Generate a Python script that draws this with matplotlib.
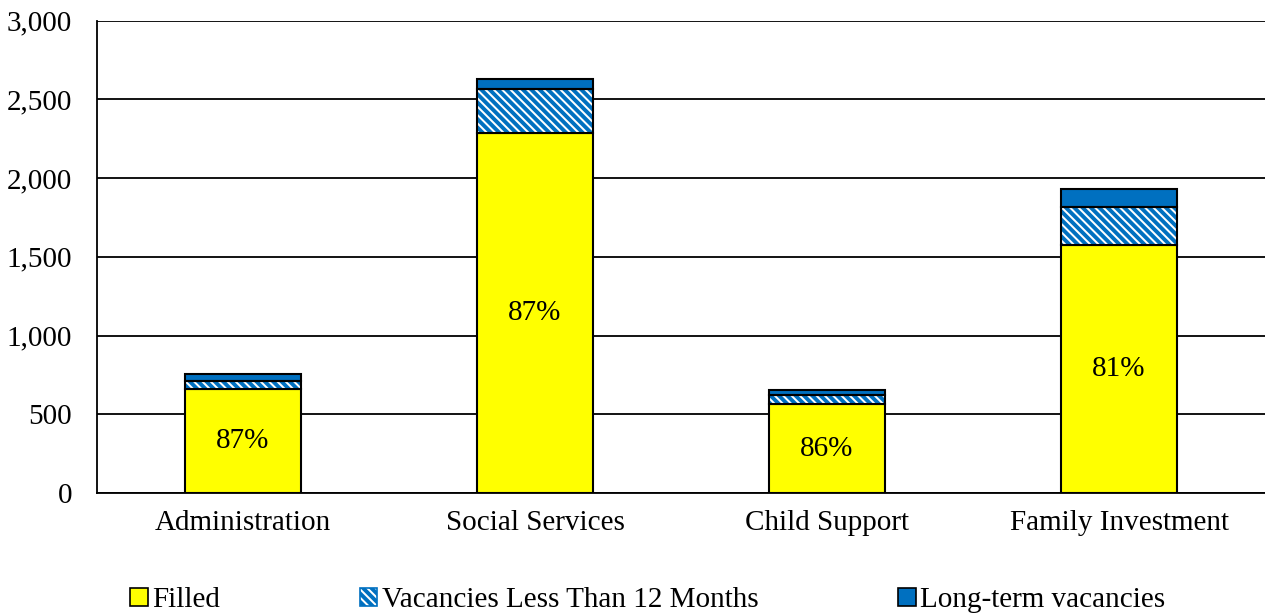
import matplotlib.pyplot as plt
import numpy as np
from matplotlib.patches import Patch

plt.rcParams['font.family'] = ['Liberation Serif', 'DejaVu Serif']
plt.rcParams['hatch.linewidth'] = 2.8

categories = ['Administration', 'Social Services', 'Child Support', 'Family Investment']
filled = [660, 2285, 562, 1575]
vac_short = [50, 280, 63, 240]
vac_long = [48, 62, 30, 118]

yellow = '#FFFF00'
blue = '#0070C0'

fig = plt.figure(figsize=(12.65, 6.15), dpi=100)
ax = fig.add_axes([97 / 1265, 1 - 493 / 615, (1265 - 97) / 1265, (493 - 20.5) / 615])

x = np.arange(len(categories))
w = 0.4
f = np.array(filled)
s = np.array(vac_short)
l = np.array(vac_long)

ax.bar(x, f, w, color=yellow, edgecolor='black', linewidth=1.5, zorder=3)
# hatch takes the edge colour, so draw blue hatching first and outline on top
ax.bar(x, s, w, bottom=f, color='white', edgecolor=blue, hatch='\\\\\\\\',
       linewidth=0, zorder=3)
ax.bar(x, s, w, bottom=f, fill=False, edgecolor='black', linewidth=1.5, zorder=4)
ax.bar(x, l, w, bottom=f + s, color=blue, edgecolor='black', linewidth=1.5, zorder=3)

# percent filled, centred in the yellow segment
for xi, fv, tot in zip(x, f, f + s + l):
    ax.text(xi, fv / 2, f'{fv / tot:.0%}', ha='center', va='center', fontsize=21)

ax.set_xlim(-0.5, 3.5)
ax.set_ylim(0, 3000)
ax.set_yticks(range(0, 3001, 500))
ax.set_yticklabels([f'{v:,}' for v in range(0, 3001, 500)])
ax.set_xticks(x)
ax.set_xticklabels(categories)
ax.tick_params(axis='both', length=0, labelsize=21)
ax.tick_params(axis='y', pad=18)
ax.tick_params(axis='x', pad=12)
ax.yaxis.grid(True, color='black', linewidth=1.3, zorder=0)
for sp in ['top', 'right']:
    ax.spines[sp].set_visible(False)
ax.spines['left'].set_linewidth(1.3)
ax.spines['bottom'].set_linewidth(1.3)

handles = [
    Patch(facecolor=yellow, edgecolor='black', linewidth=1.2, label='Filled'),
    Patch(facecolor='white', edgecolor=blue, hatch='\\\\\\\\', linewidth=1.2,
          label='Vacancies Less Than 12 Months'),
    Patch(facecolor=blue, edgecolor='black', linewidth=1.2, label='Long-term vacancies'),
]
fig.legend(handles=handles, loc='lower center', bbox_to_anchor=(0.512, -0.04), ncol=3,
           frameon=False, fontsize=21, handlelength=0.6, handleheight=0.6,
           handletextpad=0.15, columnspacing=4.8)

fig.savefig('out.png', dpi=100)
